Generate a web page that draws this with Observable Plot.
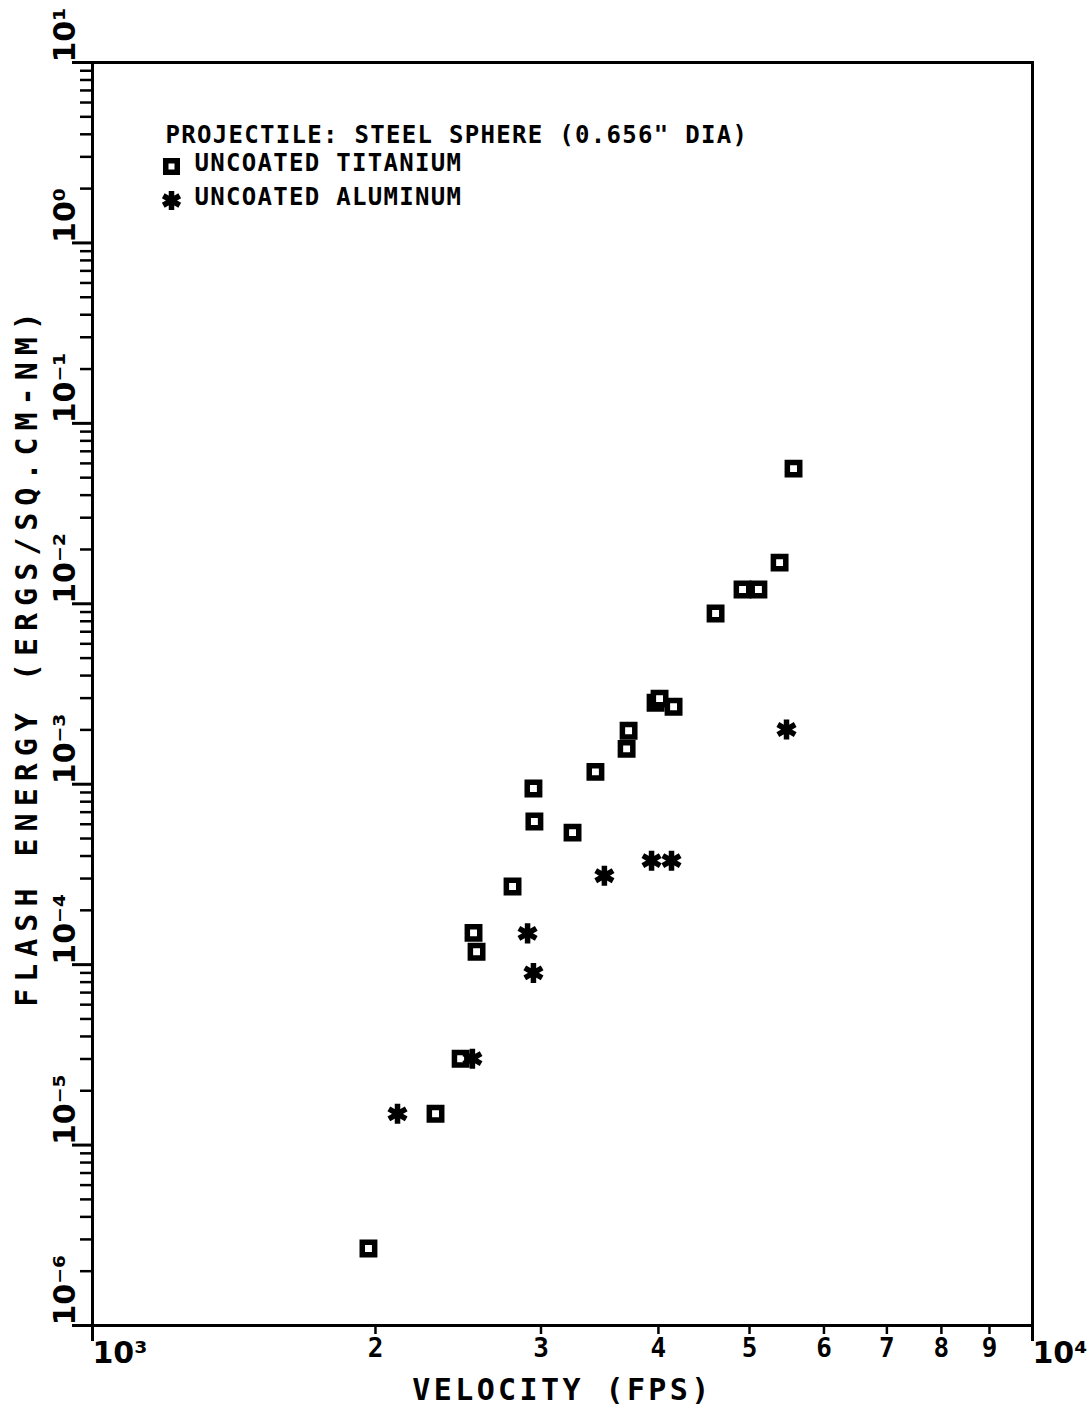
<!DOCTYPE html>
<html><head><meta charset="utf-8">
<script src="https://cdn.jsdelivr.net/npm/d3@7"></script>
<script src="https://cdn.jsdelivr.net/npm/@observablehq/plot@0.6"></script>
<style>body{margin:0;background:#fff} svg{display:block}</style>
</head><body><div id="chart"></div>
<script>
// Data
const titaniumVelocity = [1966, 2317, 2464, 2543, 2562, 2798, 2945, 2952, 3241, 3428, 3700, 3718, 3972, 4011, 4151, 4601, 4915, 5110, 5382, 5569];
const titaniumEnergy   = [2.67e-6, 1.49e-5, 3.01e-5, 1.50e-4, 1.18e-4, 2.71e-4, 9.46e-4, 6.21e-4, 5.39e-4, 1.17e-3, 1.57e-3, 1.98e-3, 2.83e-3, 2.98e-3, 2.69e-3, 8.83e-3, 1.20e-2, 1.20e-2, 1.69e-2, 5.61e-2];
const aluminumVelocity = [2111, 2536, 2903, 2945, 3504, 3933, 4130, 5474];
const aluminumEnergy   = [1.49e-5, 3.01e-5, 1.49e-4, 9.0e-5, 3.11e-4, 3.77e-4, 3.77e-4, 2.01e-3];

// Axis ticks and labels
const yExponents = [-6, -5, -4, -3, -2, -1, 0, 1];
const yDecadeLabels = ["10⁻⁶", "10⁻⁵", "10⁻⁴", "10⁻³", "10⁻²", "10⁻¹", "10⁰", "10¹"];
const minorMultipliers = [2, 3, 4, 5, 6, 7, 8, 9];
const xDecades = [1000, 10000];
const xDecadeLabels = ["10³", "10⁴"];
const xMinorLabels = ["2", "3", "4", "5", "6", "7", "8", "9"];

const xTitle = "VELOCITY (FPS)";
const yTitle = "FLASH ENERGY (ERGS/SQ.CM-NM)";
const legendHeading = "PROJECTILE: STEEL SPHERE (0.656\" DIA)";
const legendLabels = ["UNCOATED TITANIUM", "UNCOATED ALUMINUM"];

const titanium = titaniumVelocity.map((v, i) => ({v, e: titaniumEnergy[i]}));
const aluminum = aluminumVelocity.map((v, i) => ({v, e: aluminumEnergy[i]}));
const yDecades = yExponents.map(p => Math.pow(10, p));
const yMinor = yExponents.slice(0, -1).flatMap(p => minorMultipliers.map(m => m * Math.pow(10, p)));
const xMinor = minorMultipliers.map(m => m * 1000);

const font = "'DejaVu Sans Mono', monospace";
const labelFont = "'DejaVu Sans', sans-serif";
const txt = {fontFamily: font, fontWeight: "bold", fill: "#000"};
const lab = {fontFamily: labelFont, fontWeight: "bold", fill: "#000"};

const plot = Plot.plot({
  width: 1089, height: 1410,
  marginLeft: 92, marginRight: 57, marginTop: 62, marginBottom: 85,
  x: {type: "log", domain: [1000, 10000], axis: null},
  y: {type: "log", domain: [1e-6, 10], axis: null},
  style: {fontFamily: font, fontWeight: "bold", color: "#000", background: "#fff"},
  marks: [
    Plot.frame({stroke: "#000", strokeWidth: 3}),
    Plot.axisY(yMinor, {anchor: "left", label: null, tickSize: 12, tickFormat: () => "", strokeWidth: 2.5}),
    Plot.axisY(yDecades, {anchor: "left", label: null, tickSize: 20, tickFormat: () => "", strokeWidth: 3}),
    Plot.axisX(xMinor, {anchor: "bottom", label: null, tickSize: 9, tickFormat: () => "", strokeWidth: 2.5}),
    Plot.axisX(xDecades, {anchor: "bottom", label: null, tickSize: 16, tickFormat: () => "", strokeWidth: 3}),
    Plot.text(yDecades, {y: d => d, text: (d, i) => yDecadeLabels[i], frameAnchor: "left", dx: -27,
      rotate: -90, textAnchor: "start", lineAnchor: "middle", fontSize: 30, ...lab}),
    Plot.text(xMinor, {x: d => d, text: (d, i) => xMinorLabels[i], frameAnchor: "bottom", dy: 23,
      textAnchor: "middle", lineAnchor: "middle", fontSize: 26, ...txt}),
    Plot.text(xDecades, {x: d => d, text: (d, i) => xDecadeLabels[i], frameAnchor: "bottom", dy: 28,
      textAnchor: "start", lineAnchor: "middle", fontSize: 30, ...lab}),
    Plot.text([xTitle], {text: d => d, frameAnchor: "bottom", dy: 65, textAnchor: "middle", lineAnchor: "middle",
      fontSize: 30, ...txt}),
    Plot.text([yTitle], {text: d => d, frameAnchor: "left", dx: -65, dy: -38, rotate: -90,
      textAnchor: "middle", lineAnchor: "middle", fontSize: 30, ...txt}),
    // legend
    Plot.text([legendHeading], {text: d => d, frameAnchor: "top-left", dx: 73, dy: 73, textAnchor: "start",
      lineAnchor: "middle", fontSize: 24, ...txt}),
    Plot.text([legendLabels[0]], {text: d => d, frameAnchor: "top-left", dx: 102, dy: 101, textAnchor: "start",
      lineAnchor: "middle", fontSize: 24, ...txt}),
    Plot.text([legendLabels[1]], {text: d => d, frameAnchor: "top-left", dx: 102, dy: 135, textAnchor: "start",
      lineAnchor: "middle", fontSize: 24, ...txt}),
    Plot.dot([legendLabels[0]], {frameAnchor: "top-left", dx: 79, dy: 104, symbol: "square", r: 6.5, fill: "#fff", stroke: "#000", strokeWidth: 5.5}),
    Plot.dot([legendLabels[1]], {frameAnchor: "top-left", dx: 79, dy: 138, symbol: "asterisk", r: 9, stroke: "#000", strokeWidth: 5.5}),
    // data
    Plot.dot(titanium, {x: "v", y: "e", symbol: "square", r: 7, fill: "#fff", stroke: "#000", strokeWidth: 5.5}),
    Plot.dot(aluminum, {x: "v", y: "e", symbol: "asterisk", r: 9.5, stroke: "#000", strokeWidth: 5.5})
  ]
});
// letter spacing for titles and legend text
const spacing = new Map([[xTitle, "3.4px"], [yTitle, "7px"], [legendHeading, "1.3px"], [legendLabels[0], "1.3px"], [legendLabels[1], "1.3px"]]);
d3.select(plot).selectAll("text").each(function () {
  const s = spacing.get(this.textContent);
  if (s) this.style.letterSpacing = s;
});
document.getElementById("chart").appendChild(plot);
</script>
</body></html>
